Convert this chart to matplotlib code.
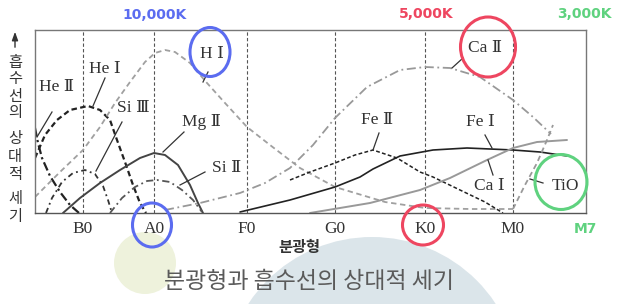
"""Spectral type vs. relative absorption-line strength (textbook figure with handwritten notes)."""
import matplotlib

matplotlib.use("Agg")
import matplotlib.pyplot as plt
from matplotlib.patches import Circle, Ellipse

# --- data (x = position along spectral axis, y = relative strength) ---
SPECTRAL_TYPES = ["B0", "A0", "F0", "G0", "K0", "M0"]
TYPE_POS = [83, 154, 247, 335, 425, 513]

HE2_X = [35, 38, 42, 50, 60, 70, 79]
HE2_Y = [85, 70, 55, 37, 21, 8, 0]

HE1_X = [35, 45, 57, 70, 88, 100, 110, 117, 125, 133, 140, 146]
HE1_Y = [55, 78, 93, 103, 107, 103, 93, 73, 51, 28, 10, 0]

SI3_X = [46, 52, 62, 73, 85, 95, 103, 108, 112]
SI3_Y = [0, 15, 31, 40, 43, 39, 27, 13, 0]

MG2_X = [63, 80, 100, 120, 140, 154, 165, 178, 190, 198, 203]
MG2_Y = [0, 15, 30, 43, 55, 60, 58, 48, 28, 10, 0]

SI2_X = [110, 122, 135, 147, 157, 170, 182, 193, 202]
SI2_Y = [0, 15, 26, 32, 33, 31, 23, 13, 1]

H1_X = [35, 60, 83, 100, 115, 130, 145, 155, 165, 175, 190, 207, 225, 247,
        270, 300, 335, 385, 425, 470, 513]
H1_Y = [16, 41, 63, 86, 110, 131, 151, 160, 163, 161, 150, 130, 110, 86,
        68, 45, 26, 11, 5, 4, 4]

CA2_X = [165, 200, 240, 265, 290, 313, 335, 367, 400, 425, 450, 480, 513, 533, 551]
CA2_Y = [3, 10, 20, 30, 45, 68, 95, 126, 143, 146, 145, 136, 113, 96, 79]

FE2_X = [290, 310, 335, 355, 373, 397, 420, 433, 460, 485, 503]
FE2_Y = [33, 41, 50, 58, 63, 55, 41, 36, 23, 11, 0]

FE1_X = [240, 290, 335, 360, 373, 400, 433, 467, 513, 540, 567]
FE1_Y = [1, 13, 26, 36, 44, 57, 63, 65, 63, 61, 57]

CA1_X = [310, 370, 420, 450, 487, 513, 537, 567]
CA1_Y = [0, 10, 23, 35, 53, 65, 71, 73]

TIO_X = [513, 525, 537, 547, 553]
TIO_Y = [4, 28, 50, 73, 88]

LINE_NAMES = ["He Ⅱ", "He Ⅰ", "Si Ⅲ", "Mg Ⅱ", "Si Ⅱ", "H Ⅰ",
              "Ca Ⅱ", "Fe Ⅱ", "Fe Ⅰ", "Ca Ⅰ", "TiO"]

YLABEL_CHARS = ["흡", "수", "선", "의", "상", "대", "적", "세", "기"]

SERIF = ["Liberation Serif", "DejaVu Serif", "DejaVu Sans", "Noto Sans CJK KR"]
KR = ["Noto Sans CJK KR", "DejaVu Sans"]
HAND = ["DejaVu Sans"]

BLUE = "#5b6cf0"
RED = "#ee4660"
GREEN = "#5fd27f"

W, H = 621, 304
X0, X1, Y0, Y1 = 35, 586, 30, 213  # plot frame in pixels


def main() -> None:
    fig = plt.figure(figsize=(W / 100, H / 100), dpi=100)

    # background blobs (pixel coordinates)
    bg = fig.add_axes([0, 0, 1, 1], zorder=0)
    bg.set_xlim(0, W)
    bg.set_ylim(H, 0)
    bg.axis("off")
    bg.add_patch(Circle((145, 263), 31, color="#eef2dc", lw=0))
    bg.add_patch(Circle((372, 385), 148, color="#dbe5ea", lw=0))

    # vertical y label, one upright glyph per row, plus the arrow
    bg.annotate("", xy=(15, 29), xytext=(15, 50),
                arrowprops=dict(arrowstyle="-|>,head_length=0.5,head_width=0.18",
                                color="#333333", lw=1.0))
    ychar_y = [62, 79, 96, 113, 139, 157, 175, 199, 216]
    for ch, y in zip(YLABEL_CHARS, ychar_y):
        bg.text(15, y, ch, family=KR, fontsize=11, ha="center", va="center",
                color="#333333")

    ax = fig.add_axes([X0 / W, 1 - Y1 / H, (X1 - X0) / W, (Y1 - Y0) / H], zorder=1)
    ax.set_facecolor("white")
    ax.set_xlim(X0, X1)
    ax.set_ylim(0, Y1 - Y0)

    curves = [
        (HE2_X, HE2_Y, "#222222", 1.6, (0, (4, 1.5, 1, 1.5))),
        (HE1_X, HE1_Y, "#222222", 1.6, (0, (2.5, 1.5))),
        (SI3_X, SI3_Y, "#333333", 1.3, (0, (3, 2, 1, 2))),
        (MG2_X, MG2_Y, "#444444", 1.4, "-"),
        (SI2_X, SI2_Y, "#555555", 1.3, (0, (4, 2, 1, 2))),
        (H1_X, H1_Y, "#a0a0a0", 1.3, (0, (3, 2))),
        (CA2_X, CA2_Y, "#999999", 1.3, (0, (5, 2, 1, 2))),
        (FE2_X, FE2_Y, "#222222", 1.1, (0, (2.5, 1.5))),
        (FE1_X, FE1_Y, "#222222", 1.2, "-"),
        (CA1_X, CA1_Y, "#999999", 1.4, "-"),
        (TIO_X, TIO_Y, "#999999", 1.3, (0, (3, 2))),
    ]
    for xs, ys, c, lw, ls in curves:
        ax.plot(xs, ys, color=c, lw=lw, linestyle=ls, solid_capstyle="round")

    for p in TYPE_POS:
        ax.axvline(p, color="#555555", lw=0.8, linestyle=(0, (3, 2)), zorder=0)

    ax.set_xticks(TYPE_POS)
    ax.set_xticklabels(SPECTRAL_TYPES, family=SERIF, fontsize=12.5, color="#333333")
    ax.tick_params(axis="x", length=0, pad=6)
    ax.set_yticks([])
    for s in ax.spines.values():
        s.set_color("#777777")
        s.set_linewidth(1.0)
    ax.spines["bottom"].set_color("#555555")

    # curve labels: (text centre), (leader start), (leader end) in pixels
    label_pos = {
        "He Ⅱ": ((57, 87), (52, 112), (37, 137)),
        "He Ⅰ": ((105, 69), (105, 78), (93, 106)),
        "Si Ⅲ": ((133, 108), (122, 122), (96, 171)),
        "Mg Ⅱ": ((201, 122), (184, 132), (163, 152)),
        "Si Ⅱ": ((227, 168), (205, 172), (180, 185)),
        "H Ⅰ": ((212, 54), (208, 72), (203, 82)),
        "Ca Ⅱ": ((485, 48), (463, 58), (452, 68)),
        "Fe Ⅱ": ((377, 120), (379, 133), (373, 150)),
        "Fe Ⅰ": ((480, 122), (485, 135), (492, 148)),
        "Ca Ⅰ": ((489, 186), (493, 175), (488, 160)),
        "TiO": ((565, 186), (543, 183), (530, 179)),
    }

    for name in LINE_NAMES:
        (tx, ty), (lx0, ly0), (lx1, ly1) = label_pos[name]
        ax.text(tx, Y1 - ty, name, family=SERIF, fontsize=12.5,
                color="#333333", ha="center", va="center", zorder=4)
        ax.plot([lx0, lx1], [Y1 - ly0, Y1 - ly1], color="#333333", lw=0.9)

    fig.text(299 / W, 1 - 247 / H, "분광형", family=KR, fontsize=11,
             fontweight="bold", ha="center", va="center", color="#333333")
    fig.text(309 / W, 1 - 281 / H, "분광형과 흡수선의 상대적 세기", family=KR,
             fontsize=16.5, ha="center", va="center", color="#5a5a5a")

    # handwritten annotations
    ov = fig.add_axes([0, 0, 1, 1], zorder=2)
    ov.set_xlim(0, W)
    ov.set_ylim(H, 0)
    ov.axis("off")
    ov.patch.set_alpha(0)
    notes = [
        ((155, 15), "10,000K", BLUE),
        ((426, 14), "5,000K", RED),
        ((584, 14), "3,000K", GREEN),
        ((585, 229), "M7", GREEN),
    ]
    for (x, y), t, c in notes:
        ov.text(x, y, t, family=HAND, fontsize=10, fontweight="bold",
                color=c, ha="center", va="center")
    rings = [
        ((210, 52), 40, 49, BLUE),
        ((152, 225), 39, 44, BLUE),
        ((423, 225), 41, 40, RED),
        ((488, 47), 55, 60, RED),
        ((561, 182), 52, 55, GREEN),
    ]
    for xy, w, h, c in rings:
        ov.add_patch(Ellipse(xy, w, h, fill=False, edgecolor=c, lw=2.2))

    fig.savefig("out.png", dpi=100)
    plt.close(fig)


if __name__ == "__main__":
    main()
